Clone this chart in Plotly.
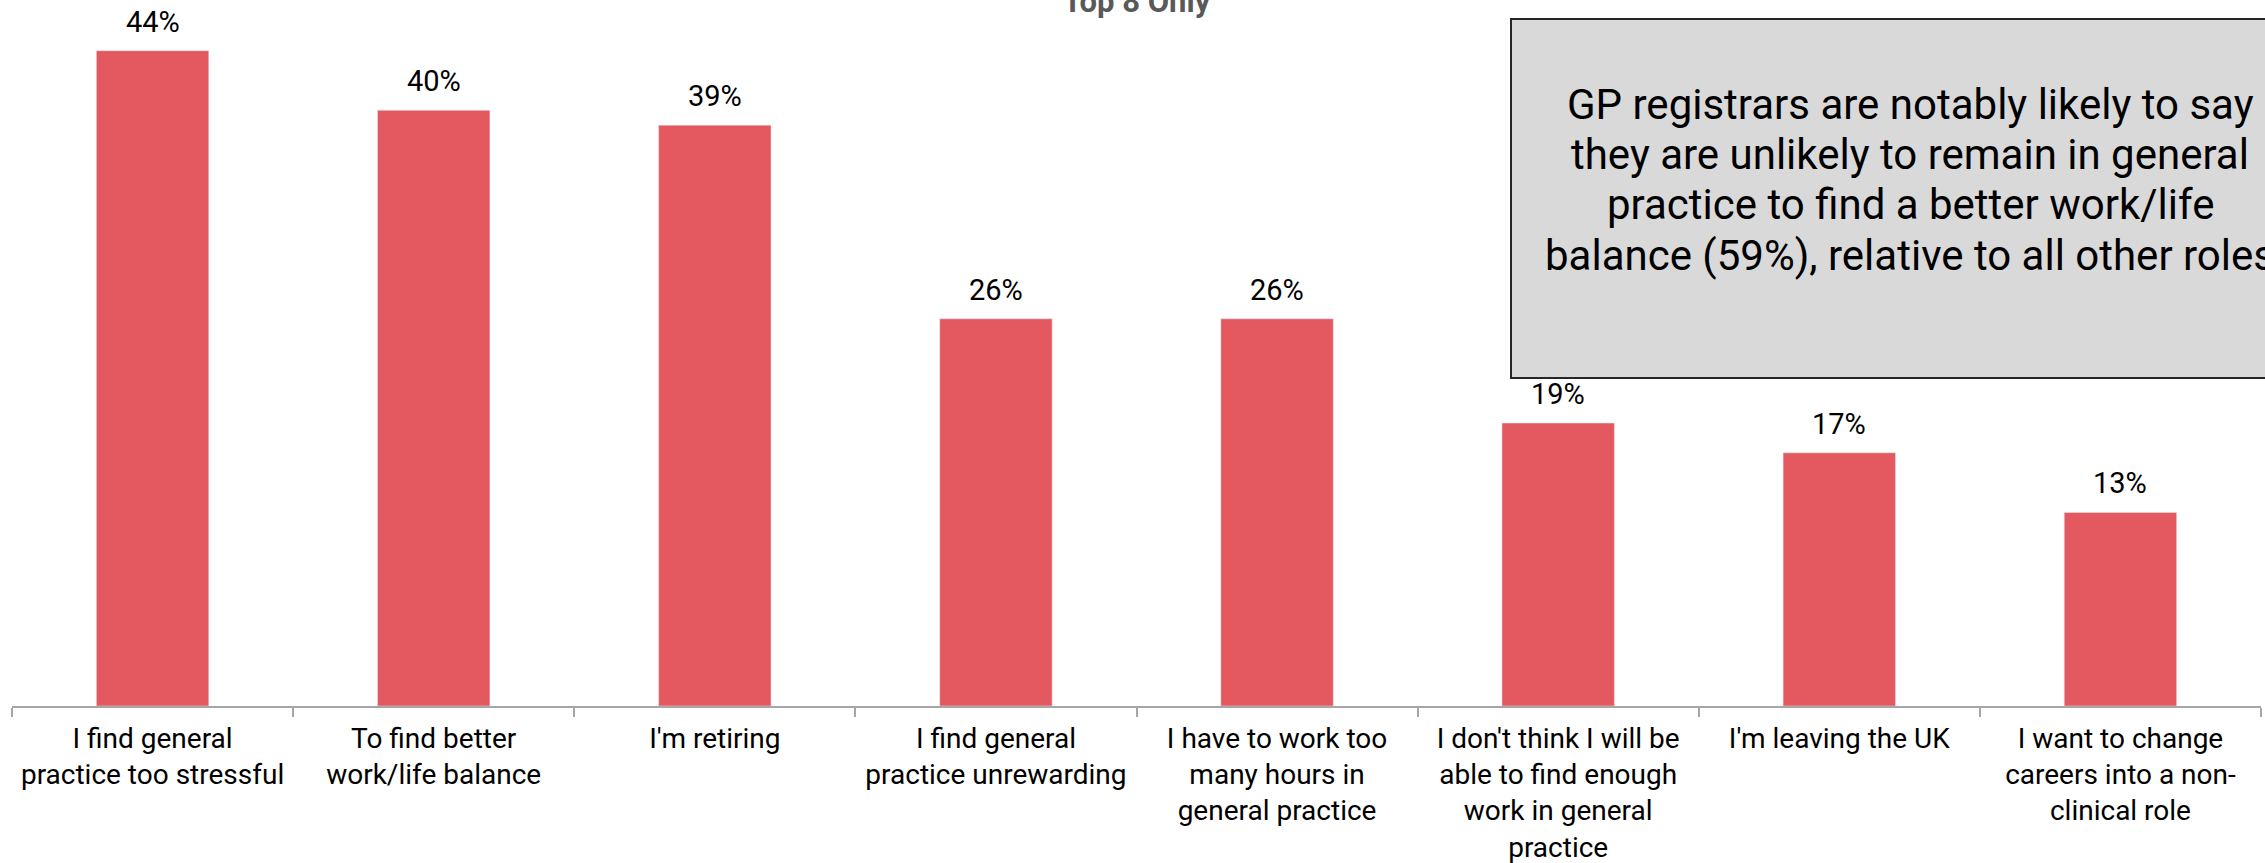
import plotly.graph_objects as go

categories = [
    "I find general<br>practice too stressful",
    "To find better<br>work/life balance",
    "I'm retiring",
    "I find general<br>practice unrewarding",
    "I have to work too<br>many hours in<br>general practice",
    "I don't think I will be<br>able to find enough<br>work in general<br>practice",
    "I'm leaving the UK",
    "I want to change<br>careers into a non-<br>clinical role",
]
values = [44, 40, 39, 26, 26, 19, 17, 13]
value_labels = [f"{v}%" for v in values]
title_text = "Top 8 Only"
note_lines = [
    "GP registrars are notably likely to say",
    "they are unlikely to remain in general",
    "practice to find a better work/life",
    "balance (59%), relative to all other roles",
]

FONT = "Roboto, 'Open Sans', sans-serif"
BAR = "#E3595F"

# pixel geometry helpers (plot area: top 6px, height 700px, left 12px, width 2249px)
PT, PH, PL, PW = 6, 700, 12, 2249
def py(pix):
    return (PT + PH - pix) / PH
def px(pix):
    return (pix - PL) / PW

fig = go.Figure()
fig.add_trace(go.Bar(
    x=categories, y=values, marker_color=BAR, width=0.4,
    hoverinfo="skip",
))

for c, v, t in zip(categories, values, value_labels):
    fig.add_annotation(x=c, y=v, text=t, showarrow=False, yanchor="bottom",
                       yshift=10, font=dict(family=FONT, size=29, color="#000000"))

# title, partly clipped at the top
fig.add_annotation(xref="paper", yref="paper", x=0.5, y=1.007, yanchor="middle",
                   text=f"<b>{title_text}</b>", showarrow=False,
                   font=dict(family=FONT, size=31, color="#595959"))

# callout box
fig.add_shape(type="rect", xref="paper", yref="paper", x0=px(1511), x1=px(2309),
              y0=py(378), y1=py(19), fillcolor="#D9D9D9",
              line=dict(color="#262626", width=2), layer="above")
line_y = [104, 154.6, 205, 255.6]
for ln, yy in zip(note_lines, line_y):
    fig.add_annotation(xref="paper", yref="paper", x=px(1910), y=py(yy), xanchor="center",
                       yanchor="middle", text=ln, showarrow=False,
                       font=dict(family=FONT, size=42, color="#000000"))

fig.update_layout(
    width=2265, height=863,
    margin=dict(l=PL, r=2265 - PL - PW, t=PT, b=863 - PT - PH),
    paper_bgcolor="white", plot_bgcolor="white",
    showlegend=False,
    font=dict(family=FONT, size=28, color="#000000"),
    xaxis=dict(
        showline=True, linecolor="#A6A6A6", linewidth=2,
        ticks="outside", tickson="boundaries", ticklen=9, tickcolor="#A6A6A6",
        tickwidth=1.5, tickfont=dict(family=FONT, size=28, color="#000000"),
        ticklabelstandoff=6,
        showgrid=False, zeroline=False, tickangle=0, automargin=False,
    ),
    yaxis=dict(range=[0, 47], visible=False, showgrid=False, zeroline=False),
    bargap=0.6,
)

fig.write_html("out.html", config={"displayModeBar": False},
               post_script="document.body.style.margin='0';document.body.style.overflow='hidden';")
